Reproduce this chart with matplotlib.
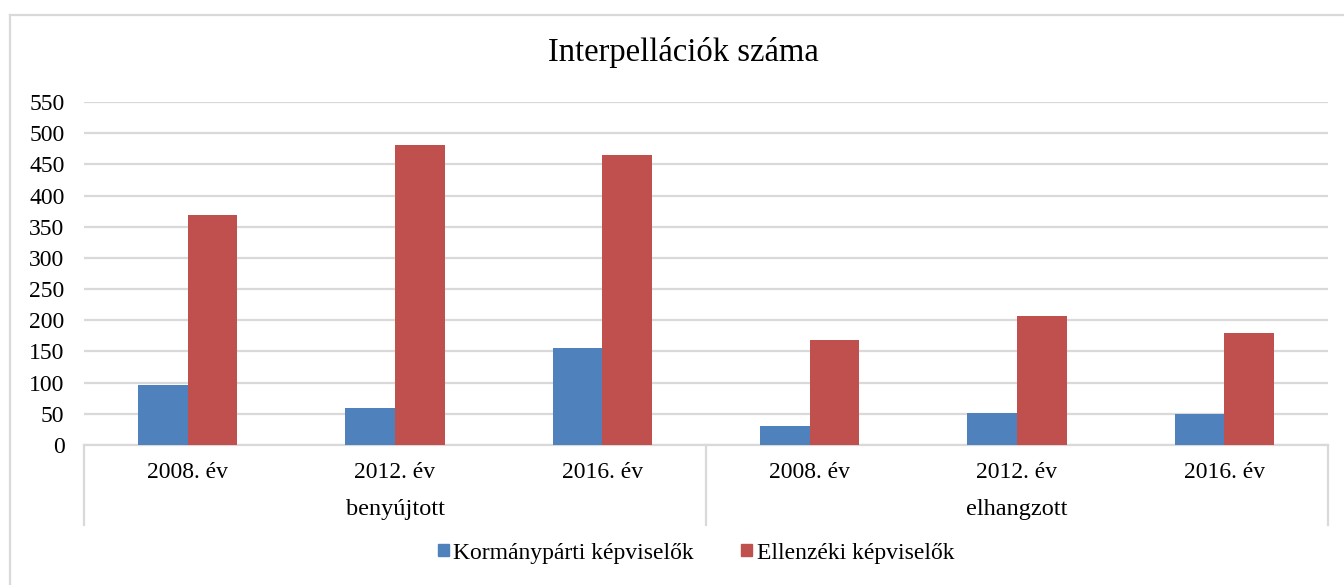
import matplotlib
matplotlib.use('Agg')
import matplotlib.pyplot as plt
from matplotlib.lines import Line2D
from matplotlib.patches import Patch
import matplotlib.transforms as mtransforms

# adatok
years = ['2008. év', '2012. év', '2016. év', '2008. év', '2012. év', '2016. év']
groups = ['benyújtott', 'elhangzott']
kormany = [97, 59, 156, 31, 51, 49]
ellenzeki = [369, 481, 465, 168, 207, 179]
series_names = ['Kormánypárti képviselők', 'Ellenzéki képviselők']

BLUE = '#4F81BD'
RED = '#C0504D'
GRID = '#D9D9D9'
FONT = ['Liberation Serif', 'DejaVu Serif']
plt.rcParams['font.family'] = FONT
FS = 17

W, H = 1344, 585
fig = plt.figure(figsize=(W / 100, H / 100), dpi=100)
# plot area in pixels: x 84..1328, y 102..445
ax = fig.add_axes([84 / W, 1 - 445 / H, (1328 - 84) / W, (445 - 102) / H])

n = len(years)
x = list(range(n))
bw = 0.24
ax.bar([i - bw / 2 for i in x], kormany, width=bw, color=BLUE, zorder=3)
ax.bar([i + bw / 2 for i in x], ellenzeki, width=bw, color=RED, zorder=3)

ax.set_xlim(-0.5, n - 0.5)
ax.set_ylim(0, 550)
ax.set_yticks(range(0, 551, 50))
ax.yaxis.grid(True, color=GRID, lw=1.6, zorder=0)
ax.set_axisbelow(True)
for s in ['top', 'right', 'left']:
    ax.spines[s].set_visible(False)
ax.spines['bottom'].set_color(GRID)
ax.spines['bottom'].set_linewidth(1.6)
ax.tick_params(axis='y', length=0, pad=14, labelsize=FS)
ax.tick_params(axis='x', length=0)
ax.set_xticks([])

# kétszintű kategóriatengely
trans = mtransforms.blended_transform_factory(ax.transData, ax.transAxes)
px = 1 / 343
for xs in [-0.5, 2.5, n - 0.5]:
    ax.add_line(Line2D([xs, xs], [0, -80 * px], transform=trans, color=GRID,
                       lw=1.6, clip_on=False))
for i, lab in enumerate(years):
    ax.text(i, -28 * px, lab, transform=trans, ha='center', va='center', fontsize=FS)
for g, lab in enumerate(groups):
    ax.text(g * 3 + 1, -65 * px, lab, transform=trans, ha='center', va='center', fontsize=FS + 0.5)

fig.text(683 / W, 1 - 52 / H, 'Interpellációk száma', ha='center', va='center', fontsize=23.5)

handles = [Patch(color=BLUE), Patch(color=RED)]
fig.legend(handles, series_names, loc='center', bbox_to_anchor=(696 / W, 1 - 553 / H),
           ncol=2, frameon=False, fontsize=FS, handlelength=0.45, handleheight=0.45,
           handletextpad=0.2, columnspacing=2.0)

# külső keret
fig.add_artist(Line2D([10 / W, 10 / W], [0, 1 - 15 / H], transform=fig.transFigure,
                      color=GRID, lw=1.6))
fig.add_artist(Line2D([10 / W, 1], [1 - 15 / H, 1 - 15 / H], transform=fig.transFigure,
                      color=GRID, lw=1.6))

fig.savefig('out.png', dpi=100)
